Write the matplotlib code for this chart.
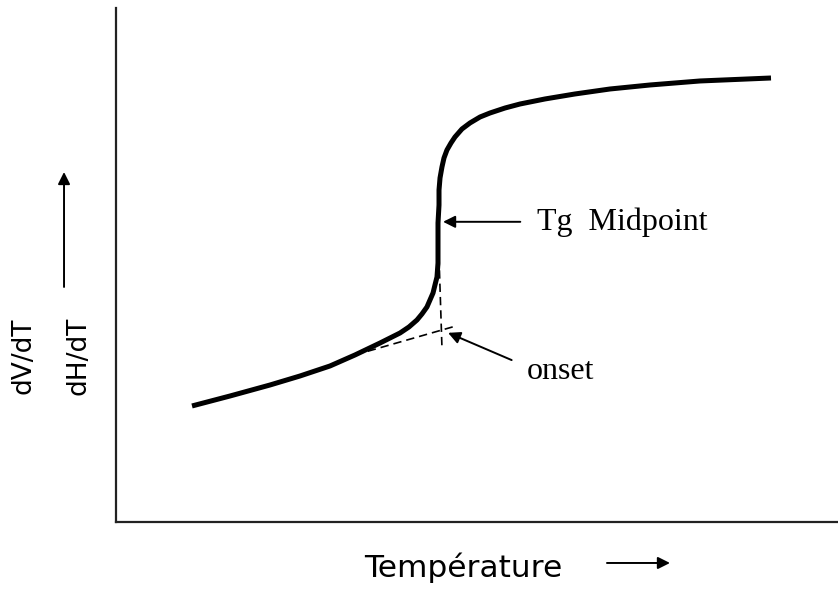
import matplotlib
matplotlib.use("Agg")
import matplotlib.pyplot as plt

# curve (arbitrary units, 0-100 both axes)
temp = [10.53, 15.79, 21.33, 25.48, 29.64, 33.10, 36.57, 39.34, 40.58, 41.69,
        42.38, 43.07, 43.49, 43.91, 44.18, 44.46, 44.60, 44.60, 44.60, 44.74,
        44.74, 44.88, 45.15, 45.43, 45.84, 46.40, 46.95, 47.92, 49.03, 50.42,
        51.80, 53.88, 55.96, 59.42, 63.57, 68.42, 73.96, 80.89, 90.72]
signal = [22.57, 24.51, 26.65, 28.40, 30.35, 32.49, 34.82, 36.77, 37.94, 39.30,
          40.47, 41.83, 43.19, 44.55, 46.11, 47.67, 50.39, 52.92, 58.17, 61.67,
          64.59, 66.93, 69.07, 70.82, 72.37, 73.74, 74.90, 76.46, 77.63, 78.79,
          79.57, 80.54, 81.32, 82.30, 83.27, 84.24, 85.02, 85.80, 86.38]

# construction lines for the onset
base_x = [33.1, 47.0]
base_y = [32.5, 38.1]
vert_x = [44.74, 45.15]
vert_y = [51.56, 33.85]

fig = plt.figure(figsize=(8.38, 5.96), dpi=100)
ax = fig.add_axes([0.1384, 0.1242, 0.8616, 0.8624])
ax.set_xlim(0, 100)
ax.set_ylim(0, 100)

ax.plot(temp, signal, color="black", lw=3.6, solid_capstyle="butt", solid_joinstyle="round")
ax.plot(base_x, base_y, color="black", lw=1.2, linestyle=(0, (5, 3)))
ax.plot(vert_x, vert_y, color="black", lw=1.2, linestyle=(0, (5, 3)))

arrow = dict(arrowstyle="-|>", lw=1.4, color="black", mutation_scale=18, shrinkA=0, shrinkB=0)
ax.annotate("", xy=(45.3, 58.4), xytext=(56.0, 58.4), arrowprops=arrow)
ax.text(58.3, 58.4, "Tg  Midpoint", fontsize=23, family="Liberation Serif", va="center", ha="left")
ax.annotate("", xy=(46.0, 36.8), xytext=(54.8, 31.5), arrowprops=arrow)
ax.text(56.9, 29.2, "onset", fontsize=23, family="Liberation Serif", va="center", ha="left")

for side in ["top", "right"]:
    ax.spines[side].set_visible(False)
for side in ["left", "bottom"]:
    ax.spines[side].set_linewidth(1.6)
    ax.spines[side].set_color("#222222")
ax.set_xticks([])
ax.set_yticks([])

# axis labels drawn outside the axes
fig.text(0.0286, 0.4027, "dV/dT", rotation=90, fontsize=19, ha="center", va="center")
fig.text(0.0931, 0.4027, "dH/dT", rotation=90, fontsize=19, ha="center", va="center")
fig.text(0.5525, 0.0319, "Température", fontsize=22.5, ha="center", va="baseline")
ax.annotate("", xy=(0.0764, 0.7114), xytext=(0.0764, 0.5185), xycoords="figure fraction",
            textcoords="figure fraction", arrowprops=arrow)
ax.annotate("", xy=(0.7995, 0.0554), xytext=(0.7243, 0.0554), xycoords="figure fraction",
            textcoords="figure fraction", arrowprops=arrow)

fig.savefig("out.png", dpi=100)
